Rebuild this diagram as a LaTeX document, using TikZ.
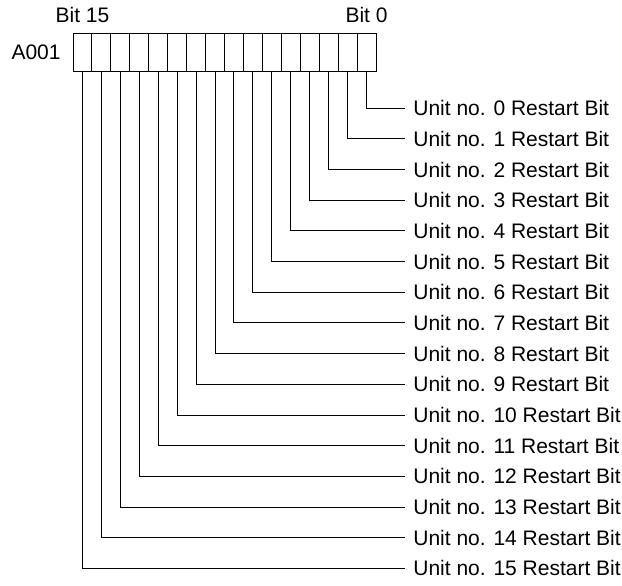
\documentclass[tikz,border=0pt]{standalone}
\usepackage{fontspec}
\setmainfont{Liberation Sans}
\usetikzlibrary{positioning}

\begin{document}
\begin{tikzpicture}[
    x=0.5pt, y=-0.5pt,
    txt/.style={font=\fontsize{10.5}{12}\selectfont, text=black},
    bitcell/.style={draw=black, line width=0.5pt, minimum width=9.47pt,
      minimum height=19pt, inner sep=0pt, outer sep=0pt},
    unitlbl/.style={txt, anchor=west, inner xsep=4pt, inner ysep=0pt},
    wire/.style={draw=black, line width=0.5pt}
  ]
    \useasboundingbox (0,0) rectangle (622,585);

    % register cells, bit 15 on the left
    \foreach \i in {0,...,15} {
      \pgfmathsetmacro\cx{73+(15.5-\i)*18.94}
      \node[bitcell] (cell\i) at (\cx,52) {};
    }
    \node[txt, anchor=east, inner sep=0pt] (reg) at ([xshift=-6pt]cell15.west) {A001};
    \node[txt, inner sep=0pt, above=4.75pt of cell15] (msb) {Bit 15};
    \node[txt, inner sep=0pt, above=4.75pt of cell0] (lsb) {Bit 0};

    % restart bit labels and leads
    \foreach \i in {0,...,15} {
      \pgfmathsetmacro\ly{108.3+\i*30.67}
      \node[unitlbl] (unit\i) at (405,\ly) {Unit no. \i\ Restart Bit};
      \draw[wire] (cell\i.south) |- (unit\i.west);
    }
  \end{tikzpicture}
\end{document}
